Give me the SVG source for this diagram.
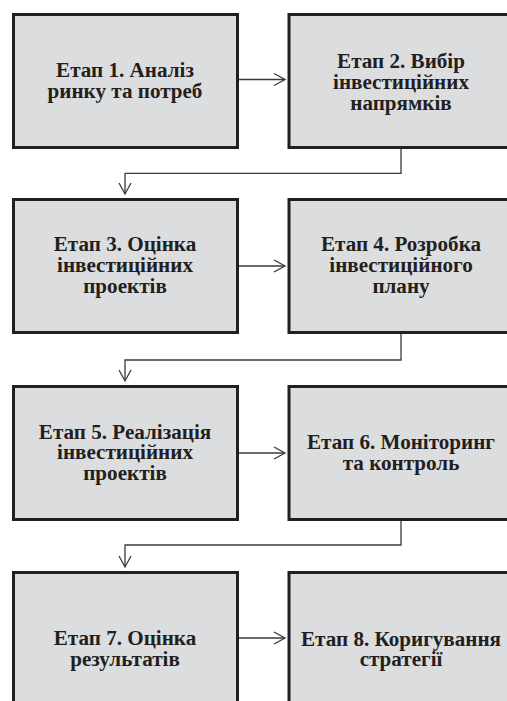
<svg xmlns="http://www.w3.org/2000/svg" width="507" height="701" viewBox="0 0 507 701">
<defs>
<style>
.box{fill:#dcdddf;stroke:#231f20;stroke-width:3}
.t{font-family:"Liberation Serif","Times New Roman",serif;font-weight:bold;font-size:21.1px;fill:#231f20;text-anchor:middle}
.c{fill:none;stroke:#3a3a3a;stroke-width:1.3}
</style>
<marker id="ah" markerUnits="userSpaceOnUse" markerWidth="16" markerHeight="16" viewBox="-12 -8 16 16" refX="0" refY="0" orient="auto">
<path d="M-11,-6 L0,0 L-11,6" fill="none" stroke="#3a3a3a" stroke-width="1.3"/>
</marker>
</defs>
<rect width="507" height="701" fill="#ffffff"/>
<g id="connectors">
<path class="c" d="M239,79.5 H285" marker-end="url(#ah)"/>
<path class="c" d="M239,266 H285" marker-end="url(#ah)"/>
<path class="c" d="M239,453 H285" marker-end="url(#ah)"/>
<path class="c" d="M239,638 H285" marker-end="url(#ah)"/>
<path class="c" d="M401,149 V173.3 H125 V194" marker-end="url(#ah)"/>
<path class="c" d="M401,334 V360 H125 V381" marker-end="url(#ah)"/>
<path class="c" d="M401,521 V545 H125 V567" marker-end="url(#ah)"/>
</g>
<g id="stage1">
<rect class="box" x="13.5" y="14.5" width="224" height="133"/>
<text class="t" x="125" y="76.7">Етап 1. Аналіз</text>
<text class="t" x="125" y="97.7">ринку та потреб</text>
</g>
<g id="stage2">
<rect class="box" x="289" y="14.5" width="224" height="133"/>
<text class="t" x="401" y="68.3">Етап 2. Вибір</text>
<text class="t" x="401" y="89">інвестиційних</text>
<text class="t" x="401" y="109.7">напрямків</text>
</g>
<g id="stage3">
<rect class="box" x="13.5" y="199.5" width="224" height="133"/>
<text class="t" x="125" y="251">Етап 3. Оцінка</text>
<text class="t" x="125" y="271.7">інвестиційних</text>
<text class="t" x="125" y="292.5">проектів</text>
</g>
<g id="stage4">
<rect class="box" x="289" y="199.5" width="224" height="133"/>
<text class="t" x="401" y="251">Етап 4. Розробка</text>
<text class="t" x="401" y="271.7">інвестиційного</text>
<text class="t" x="401" y="292.5">плану</text>
</g>
<g id="stage5">
<rect class="box" x="13.5" y="386.5" width="224" height="133"/>
<text class="t" x="125" y="438.5">Етап 5. Реалізація</text>
<text class="t" x="125" y="459.3">інвестиційних</text>
<text class="t" x="125" y="480">проектів</text>
</g>
<g id="stage6">
<rect class="box" x="289" y="386.5" width="224" height="133"/>
<text class="t" x="401" y="448.5">Етап 6. Моніторинг</text>
<text class="t" x="401" y="469.5">та контроль</text>
</g>
<g id="stage7">
<rect class="box" x="13.5" y="572.5" width="224" height="140"/>
<text class="t" x="125" y="645">Етап 7. Оцінка</text>
<text class="t" x="125" y="666">результатів</text>
</g>
<g id="stage8">
<rect class="box" x="289" y="572.5" width="224" height="140"/>
<text class="t" x="401" y="645.5">Етап 8. Коригування</text>
<text class="t" x="401" y="666">стратегії</text>
</g>
</svg>
